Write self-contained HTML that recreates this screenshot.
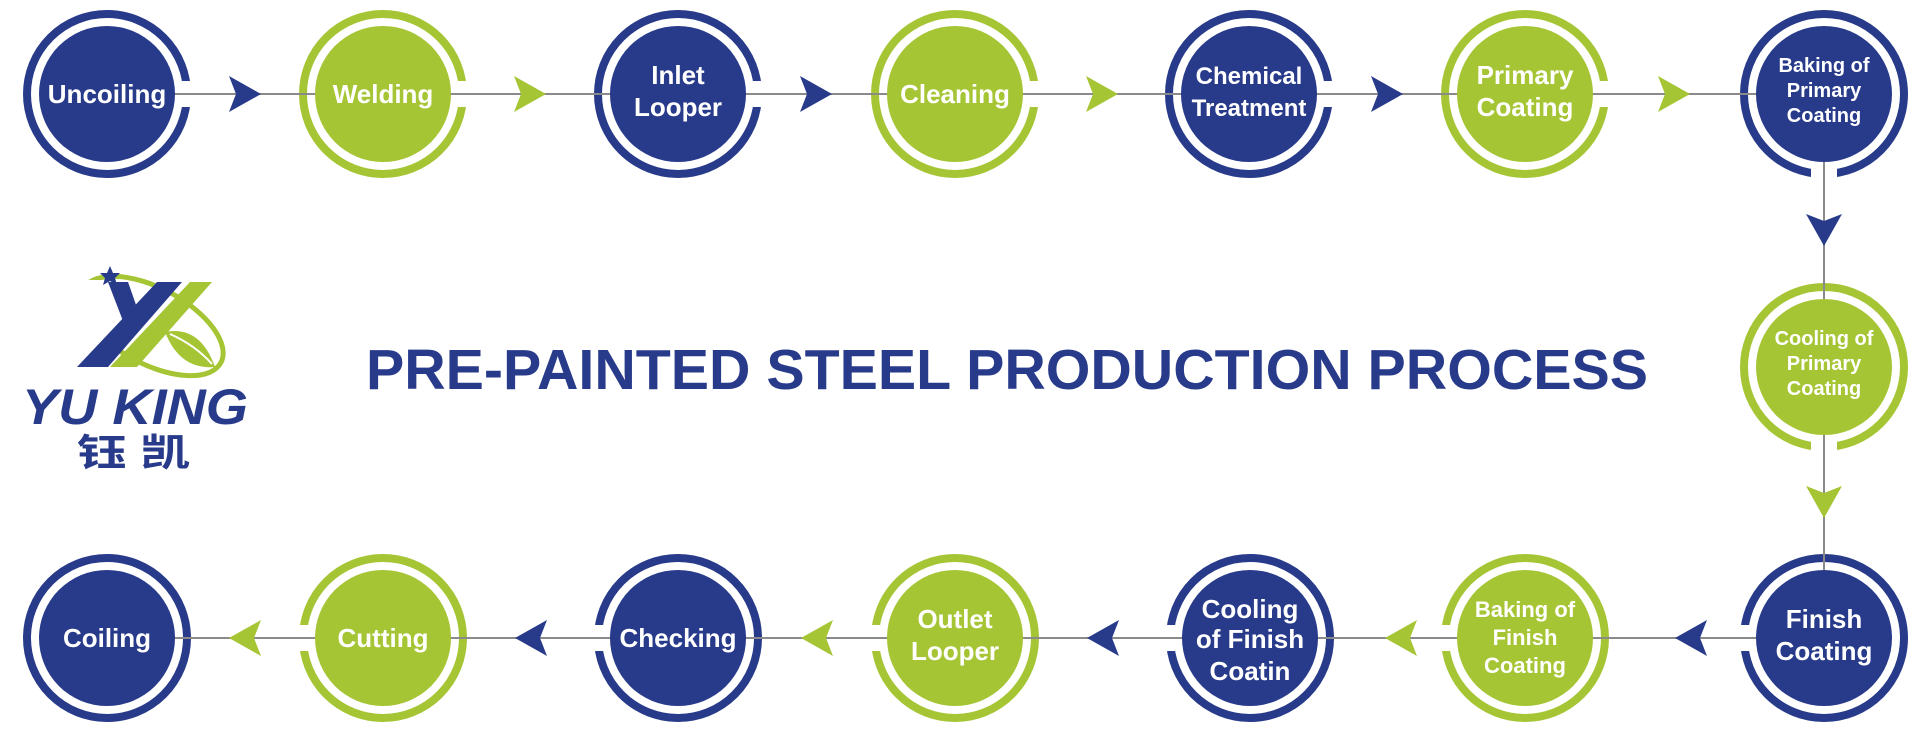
<!DOCTYPE html>
<html><head><meta charset="utf-8"><style>
html,body{margin:0;padding:0;background:#fff;}
svg{display:block;}
text{font-family:"Liberation Sans",Arial,sans-serif;font-weight:bold;fill:#fff;text-anchor:middle;}
</style></head><body>
<svg width="1920" height="737" viewBox="0 0 1920 737" xmlns="http://www.w3.org/2000/svg">
<defs>
<g id="rb"><circle r="80" fill="none" stroke="#283a8a" stroke-width="8"/></g>
<g id="rg"><circle r="80" fill="none" stroke="#a6c535" stroke-width="8"/></g>
</defs>
<g>
<use href="#rb" x="107" y="94"/><use href="#rg" x="383" y="94"/><use href="#rb" x="678" y="94"/>
<use href="#rg" x="955" y="94"/><use href="#rb" x="1249" y="94"/><use href="#rg" x="1525" y="94"/>
<use href="#rb" x="1824" y="94"/><use href="#rg" x="1824" y="367"/><use href="#rb" x="1824" y="638"/>
<use href="#rg" x="1525" y="638"/><use href="#rb" x="1250" y="638"/><use href="#rg" x="955" y="638"/>
<use href="#rb" x="678" y="638"/><use href="#rg" x="383" y="638"/><use href="#rb" x="107" y="638"/>
</g>
<g fill="#fff">
<rect x="177" y="81" width="16" height="26"/><rect x="453" y="81" width="16" height="26"/>
<rect x="748" y="81" width="16" height="26"/><rect x="1025" y="81" width="16" height="26"/>
<rect x="1319" y="81" width="16" height="26"/><rect x="1595" y="81" width="16" height="26"/>
<rect x="1811" y="164" width="26" height="16"/><rect x="1811" y="437" width="26" height="16"/>
<rect x="1738" y="625" width="16" height="26"/><rect x="1439" y="625" width="16" height="26"/>
<rect x="1164" y="625" width="16" height="26"/><rect x="869" y="625" width="16" height="26"/>
<rect x="592" y="625" width="16" height="26"/><rect x="297" y="625" width="16" height="26"/>
</g>
<g stroke="#8a8a8a" stroke-width="2" fill="none">
<line x1="107" y1="94" x2="1824" y2="94"/>
<line x1="1824" y1="94" x2="1824" y2="638"/>
<line x1="1824" y1="638" x2="107" y2="638"/>
</g>
<g>
<circle cx="107" cy="94" r="68" fill="#283a8a"/><circle cx="383" cy="94" r="68" fill="#a6c535"/>
<circle cx="678" cy="94" r="68" fill="#283a8a"/><circle cx="955" cy="94" r="68" fill="#a6c535"/>
<circle cx="1249" cy="94" r="68" fill="#283a8a"/><circle cx="1525" cy="94" r="68" fill="#a6c535"/>
<circle cx="1824" cy="94" r="68" fill="#283a8a"/><circle cx="1824" cy="367" r="68" fill="#a6c535"/>
<circle cx="1824" cy="638" r="68" fill="#283a8a"/><circle cx="1525" cy="638" r="68" fill="#a6c535"/>
<circle cx="1250" cy="638" r="68" fill="#283a8a"/><circle cx="955" cy="638" r="68" fill="#a6c535"/>
<circle cx="678" cy="638" r="68" fill="#283a8a"/><circle cx="383" cy="638" r="68" fill="#a6c535"/>
<circle cx="107" cy="638" r="68" fill="#283a8a"/>
</g>
<g>
<polygon points="229,76 261,94 229,112 236,94" fill="#283a8a"/>
<polygon points="514,76 546,94 514,112 521,94" fill="#a6c535"/>
<polygon points="800,76 832,94 800,112 807,94" fill="#283a8a"/>
<polygon points="1086,76 1118,94 1086,112 1093,94" fill="#a6c535"/>
<polygon points="1371,76 1403,94 1371,112 1378,94" fill="#283a8a"/>
<polygon points="1658,76 1690,94 1658,112 1665,94" fill="#a6c535"/>
<polygon points="1806,214 1824,246 1842,214 1824,221" fill="#283a8a"/>
<polygon points="1806,486 1824,518 1842,486 1824,493" fill="#a6c535"/>
<polygon points="1707,620 1675,638 1707,656 1700,638" fill="#283a8a"/>
<polygon points="1417,620 1385,638 1417,656 1410,638" fill="#a6c535"/>
<polygon points="1119,620 1087,638 1119,656 1112,638" fill="#283a8a"/>
<polygon points="833,620 801,638 833,656 826,638" fill="#a6c535"/>
<polygon points="547,620 515,638 547,656 540,638" fill="#283a8a"/>
<polygon points="261,620 229,638 261,656 254,638" fill="#a6c535"/>
</g>
<g font-size="26">
<text x="107" y="103">Uncoiling</text>
<text x="383" y="103">Welding</text>
<text x="678" y="84">Inlet</text><text x="678" y="116">Looper</text>
<text x="955" y="103">Cleaning</text>
<text x="1249" y="84" font-size="24">Chemical</text><text x="1249" y="116" font-size="24">Treatment</text>
<text x="1525" y="84">Primary</text><text x="1525" y="116">Coating</text>
<g font-size="20"><text x="1824" y="72">Baking of</text><text x="1824" y="97">Primary</text><text x="1824" y="122">Coating</text></g>
<g font-size="20"><text x="1824" y="345">Cooling of</text><text x="1824" y="370">Primary</text><text x="1824" y="395">Coating</text></g>
<text x="1824" y="628">Finish</text><text x="1824" y="660">Coating</text>
<g font-size="22"><text x="1525" y="617">Baking of</text><text x="1525" y="645">Finish</text><text x="1525" y="673">Coating</text></g>
<text x="1250" y="618">Cooling</text><text x="1250" y="648">of Finish</text><text x="1250" y="680">Coatin</text>
<text x="955" y="628">Outlet</text><text x="955" y="660">Looper</text>
<text x="678" y="647">Checking</text>
<text x="383" y="647">Cutting</text>
<text x="107" y="647">Coiling</text>
</g>
<text x="366" y="389" font-size="57" textLength="1282" lengthAdjust="spacingAndGlyphs" style="fill:#283a8a;text-anchor:start">PRE-PAINTED STEEL PRODUCTION PROCESS</text>
<g>
<ellipse cx="152" cy="326" rx="78" ry="38" transform="rotate(28 152 326)" fill="none" stroke="#a6c535" stroke-width="5"/>
<rect x="60" y="280" width="60" height="70" fill="#fff"/>
<polygon points="108,282 128,282 142,322 128,334" fill="#283a8a"/>
<polygon points="157,282 182,282 108,367 77,367" fill="#283a8a"/>
<polygon points="190,282 212,282 137,367 110,367" fill="#a6c535"/>
<path d="M165,332 Q200,325 215,367 Q180,370 165,332 Z" fill="#a6c535"/>
<path d="M170,334 Q195,345 212,364" stroke="#fff" stroke-width="2" fill="none"/>
<polygon points="110,266 113,273 120,273 115,278 117,285 110,281 103,285 105,278 100,273 107,273" fill="#283a8a"/>
<text x="22" y="424" font-size="50" font-style="italic" textLength="226" lengthAdjust="spacingAndGlyphs" style="fill:#283a8a;text-anchor:start">YU KING</text>
<text x="77" y="466" font-size="38" textLength="113" lengthAdjust="spacingAndGlyphs" style="fill:#283a8a;text-anchor:start;font-family:'Liberation Sans','Noto Sans CJK SC',sans-serif">钰 凯</text>
</g>
</svg>
</body></html>
